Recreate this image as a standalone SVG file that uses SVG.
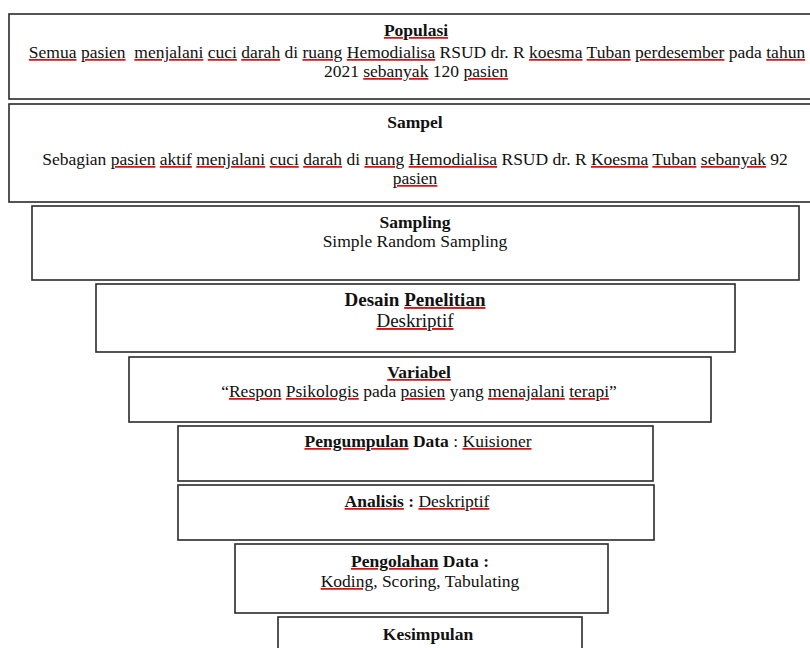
<svg xmlns="http://www.w3.org/2000/svg" width="810" height="648" viewBox="0 0 810 648">
<style>
  .box { fill: #fff; stroke: #2a2a2a; stroke-width: 1.6; }
  text { font-family: "Liberation Serif", "Times New Roman", serif; font-size: 17.5px; fill: #111; text-anchor: middle; white-space: pre; }
  .b { font-weight: bold; }
  .lg { font-size: 19px; }
  .ul { fill: #e01010; text-decoration-line: underline; text-decoration-style: wavy; text-decoration-color: #e01010; }
  .ul tspan { fill: #111; }
</style>
<rect x="0" y="0" width="810" height="648" fill="#fff"/>
<g id="connectors"></g>
<g id="populasi">
  <rect class="box" x="9" y="14" width="830" height="85"/>
  <text x="416" y="36"><tspan class="b ul"><tspan>Populasi</tspan></tspan></text>
  <text x="417" y="58"><tspan class="ul"><tspan>Semua</tspan></tspan> <tspan class="ul"><tspan>pasien</tspan></tspan>  <tspan class="ul"><tspan>menjalani</tspan></tspan> <tspan class="ul"><tspan>cuci</tspan></tspan> <tspan class="ul"><tspan>darah</tspan></tspan> di <tspan class="ul"><tspan>ruang</tspan></tspan> <tspan class="ul"><tspan>Hemodialisa</tspan></tspan> RSUD dr. R <tspan class="ul"><tspan>koesma</tspan></tspan> <tspan class="ul"><tspan>Tuban</tspan></tspan> <tspan class="ul"><tspan>perdesember</tspan></tspan> pada <tspan class="ul"><tspan>tahun</tspan></tspan></text>
  <text x="416" y="77">2021 <tspan class="ul"><tspan>sebanyak</tspan></tspan> 120 <tspan class="ul"><tspan>pasien</tspan></tspan></text>
</g>
<g id="sampel">
  <rect class="box" x="9" y="104" width="830" height="98"/>
  <text x="415" y="128" class="b">Sampel</text>
  <text x="415" y="165">Sebagian <tspan class="ul"><tspan>pasien</tspan></tspan> <tspan class="ul"><tspan>aktif</tspan></tspan> <tspan class="ul"><tspan>menjalani</tspan></tspan> <tspan class="ul"><tspan>cuci</tspan></tspan> <tspan class="ul"><tspan>darah</tspan></tspan> di <tspan class="ul"><tspan>ruang</tspan></tspan> <tspan class="ul"><tspan>Hemodialisa</tspan></tspan> RSUD dr. R <tspan class="ul"><tspan>Koesma</tspan></tspan> <tspan class="ul"><tspan>Tuban</tspan></tspan> <tspan class="ul"><tspan>sebanyak</tspan></tspan> 92</text>
  <text x="415" y="184"><tspan class="ul"><tspan>pasien</tspan></tspan></text>
</g>
<g id="sampling">
  <rect class="box" x="32" y="206" width="767" height="74"/>
  <text x="415" y="228" class="b">Sampling</text>
  <text x="415" y="247">Simple Random Sampling</text>
</g>
<g id="desain">
  <rect class="box" x="96" y="284" width="639" height="68"/>
  <text x="415" y="306" class="b lg">Desain <tspan class="ul"><tspan>Penelitian</tspan></tspan></text>
  <text x="415" y="327" class="lg"><tspan class="ul"><tspan>Deskriptif</tspan></tspan></text>
</g>
<g id="variabel">
  <rect class="box" x="129" y="357" width="582" height="65"/>
  <text x="419" y="378" class="b"><tspan class="ul"><tspan>Variabel</tspan></tspan></text>
  <text x="419" y="397">“<tspan class="ul"><tspan>Respon</tspan></tspan> <tspan class="ul"><tspan>Psikologis</tspan></tspan> pada <tspan class="ul"><tspan>pasien</tspan></tspan> yang <tspan class="ul"><tspan>menajalani</tspan></tspan> <tspan class="ul"><tspan>terapi</tspan></tspan>”</text>
</g>
<g id="pengumpulan">
  <rect class="box" x="178" y="426" width="475" height="55"/>
  <text x="418" y="447"><tspan class="b ul"><tspan>Pengumpulan</tspan></tspan><tspan class="b"> Data</tspan> : <tspan class="ul"><tspan>Kuisioner</tspan></tspan></text>
</g>
<g id="analisis">
  <rect class="box" x="178" y="485" width="476" height="55"/>
  <text x="417" y="507"><tspan class="b ul"><tspan>Analisis</tspan></tspan><tspan class="b"> :</tspan> <tspan class="ul"><tspan>Deskriptif</tspan></tspan></text>
</g>
<g id="pengolahan">
  <rect class="box" x="235" y="544" width="373" height="69"/>
  <text x="420" y="567"><tspan class="b ul"><tspan>Pengolahan</tspan></tspan><tspan class="b"> Data :</tspan></text>
  <text x="420" y="587"><tspan class="ul"><tspan>Koding</tspan></tspan>, Scoring, Tabulating</text>
</g>
<g id="kesimpulan">
  <rect class="box" x="278" y="617" width="304" height="60"/>
  <text x="428" y="640" class="b">Kesimpulan</text>
</g>
</svg>
